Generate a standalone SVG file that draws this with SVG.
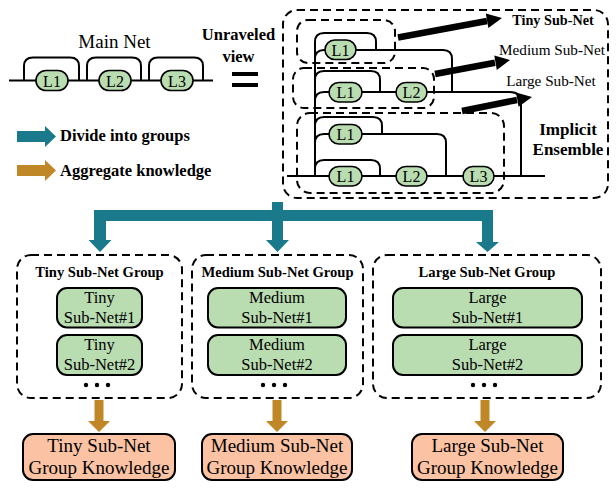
<svg xmlns="http://www.w3.org/2000/svg" width="616" height="488" viewBox="0 0 616 488" font-family="'Liberation Serif', 'DejaVu Serif', serif">
<style>
  text { font-family: 'Liberation Serif', 'DejaVu Serif', serif; fill: #000; }
  .b { font-weight: bold; }
  .net { fill: none; stroke: #000; stroke-width: 2; }
  .pill { fill: #b9dcb1; stroke: #000; stroke-width: 1.6; }
  .pt { font-size: 16px; text-anchor: middle; }
  .dash { fill: none; stroke: #000; stroke-width: 2; stroke-dasharray: 8 5; }
  .sub { fill: #b9dcb1; stroke: #000; stroke-width: 2; }
  .know { fill: #fbc3a3; stroke: #000; stroke-width: 2; }
  .st { font-size: 16.5px; text-anchor: middle; }
  .kt { font-size: 19px; text-anchor: middle; }
  .gt { font-size: 14.6px; font-weight: bold; text-anchor: middle; }
  .teal { fill: #1a7a8c; }
  .gold { fill: #bf8726; }
</style>

<!-- Main Net -->
<g id="main-net">
  <text x="114.5" y="48" font-size="19" text-anchor="middle">Main Net</text>
  <path class="net" d="M9,80.5 H213 M24,80.5 V66 Q24,57.5 33,57.5 H70 Q79,57.5 79,66 V80.5 M87,80.5 V66 Q87,57.5 96,57.5 H132 Q141,57.5 141,66 V80.5 M149,80.5 V66 Q149,57.5 158,57.5 H194 Q203,57.5 203,66 V80.5"/>
  <rect class="pill" x="36" y="70.5" width="32" height="20" rx="10"/>
  <rect class="pill" x="99" y="70.5" width="32" height="20" rx="10"/>
  <rect class="pill" x="161" y="70.5" width="32" height="20" rx="10"/>
  <text class="pt" x="52" y="86.5">L1</text>
  <text class="pt" x="115" y="86.5">L2</text>
  <text class="pt" x="177" y="86.5">L3</text>
</g>

<g id="equals">
  <text class="b" x="238.5" y="40" font-size="16.5" text-anchor="middle">Unraveled</text>
  <text class="b" x="238.5" y="62" font-size="16.5" text-anchor="middle">view</text>
  <rect x="232" y="72" width="26" height="4" fill="#000"/>
  <rect x="232" y="83" width="26" height="4" fill="#000"/>
</g>

<!-- Legend -->
<g id="legend">
  <path class="teal" d="M17,131 H45 V126 L56,136.5 L45,147 V142 H17 Z"/>
  <text class="b" x="60" y="141" font-size="16.5">Divide into groups</text>
  <path class="gold" d="M17,165 H45 V160 L56,170.5 L45,181 V176 H17 Z"/>
  <text class="b" x="60" y="176" font-size="16.5">Aggregate knowledge</text>
</g>

<!-- Unraveled view -->
<g id="unraveled-view">
  <rect class="dash" x="283" y="10" width="325" height="188" rx="14"/>
  <rect class="dash" x="297" y="20" width="98" height="43" rx="11"/>
  <rect class="dash" x="293" y="68" width="141" height="40" rx="11"/>
  <rect class="dash" x="297" y="113" width="207" height="80" rx="13"/>
  <path class="net" d="M315,176 V42 Q315,33 324,33 H367 Q376,33 376,42 V50
    M315,59 Q315,50 324,50 H443 Q452,50 452,59 V92
    M315,80 Q315,71 324,71 H371 Q380,71 380,80 V92
    M315,101 Q315,92 324,92 H510 Q521,92 521,103 V176
    M315,126 Q315,117 324,117 H373 Q382,117 382,126 V134
    M315,143 Q315,134 324,134 H437 Q446,134 446,143 V176
    M315,169 Q315,160 324,160 H371 Q380,160 380,169 V176
    M287,176 H545"/>
  <rect class="pill" x="325" y="40" width="31" height="19.5" rx="9.75"/>
  <text class="pt" x="340.5" y="55.5">L1</text>
  <rect class="pill" x="329" y="82.5" width="33" height="19.5" rx="9.75"/>
  <text class="pt" x="345.5" y="98">L1</text>
  <rect class="pill" x="396" y="82.5" width="31" height="19.5" rx="9.75"/>
  <text class="pt" x="411.5" y="98">L2</text>
  <rect class="pill" x="329" y="124.5" width="33" height="19.5" rx="9.75"/>
  <text class="pt" x="345.5" y="140">L1</text>
  <rect class="pill" x="329" y="166.5" width="33" height="19.5" rx="9.75"/>
  <text class="pt" x="345.5" y="182">L1</text>
  <rect class="pill" x="396" y="166.5" width="31" height="19.5" rx="9.75"/>
  <text class="pt" x="411.5" y="182">L2</text>
  <rect class="pill" x="463" y="166.5" width="31" height="19.5" rx="9.75"/>
  <text class="pt" x="478.5" y="182">L3</text>

  <g id="subnet-arrows">
    <line x1="398" y1="37.5" x2="487" y2="21" stroke="#000" stroke-width="6.5"/>
    <polygon points="502,18 488.4,27.9 485.8,13.6" fill="#000"/>
    <line x1="435" y1="74" x2="495" y2="62.8" stroke="#000" stroke-width="6.5"/>
    <polygon points="510,60 496.8,69.9 494.3,55.6" fill="#000"/>
    <line x1="462" y1="111" x2="517" y2="100" stroke="#000" stroke-width="6.5"/>
    <polygon points="532,97 518.6,106.8 516.0,92.5" fill="#000"/>
  </g>
  <text class="b" x="553" y="25" font-size="14.2" text-anchor="middle">Tiny Sub-Net</text>
  <text x="552" y="55" font-size="15.2" text-anchor="middle">Medium Sub-Net</text>
  <text x="551" y="86" font-size="15.2" text-anchor="middle">Large Sub-Net</text>
  <text class="b" x="568" y="135" font-size="17" text-anchor="middle">Implicit</text>
  <text class="b" x="568" y="155" font-size="17" text-anchor="middle">Ensemble</text>
</g>

<!-- Divide / aggregate connectors -->
<g id="connectors">
  <path class="teal" d="M94,210 H272 V202 H283 V210 H493 V242 H499 L487.5,252 L476,242 H482 V221 H283 V240 H289 L277.5,252 L266,240 H272 V221 H106 V240 H111.5 L100,252 L88.5,240 H94 Z"/>
  <path class="gold" d="M94.5,400 H103.5 V421 H110 L99,432 L88,421 H94.5 Z"/>
  <path class="gold" d="M272.5,400 H281.5 V421 H288 L277,432 L266,421 H272.5 Z"/>
  <path class="gold" d="M480.5,400 H489.5 V421 H496 L485,432 L474,421 H480.5 Z"/>
</g>

<!-- Groups -->
<g id="tiny-group">
  <rect class="dash" x="17" y="255" width="165" height="143" rx="14"/>
  <text class="gt" x="99.5" y="277">Tiny Sub-Net Group</text>
  <rect class="sub" x="57" y="288" width="85" height="39.5" rx="10"/>
  <text class="st" x="99.5" y="303">Tiny</text>
  <text class="st" x="99.5" y="323">Sub-Net#1</text>
  <rect class="sub" x="57" y="335" width="85" height="40" rx="10"/>
  <text class="st" x="99.5" y="350">Tiny</text>
  <text class="st" x="99.5" y="370">Sub-Net#2</text>
  <circle cx="86" cy="385" r="2.2"/><circle cx="97" cy="385" r="2.2"/><circle cx="108" cy="385" r="2.2"/>
</g>
<g id="medium-group">
  <rect class="dash" x="192" y="255" width="171" height="143" rx="14"/>
  <text class="gt" x="277.5" y="277">Medium Sub-Net Group</text>
  <rect class="sub" x="208" y="288" width="138" height="39.5" rx="10"/>
  <text class="st" x="277" y="303">Medium</text>
  <text class="st" x="277" y="323">Sub-Net#1</text>
  <rect class="sub" x="208" y="335" width="138" height="40" rx="10"/>
  <text class="st" x="277" y="350">Medium</text>
  <text class="st" x="277" y="370">Sub-Net#2</text>
  <circle cx="263" cy="385" r="2.2"/><circle cx="274" cy="385" r="2.2"/><circle cx="285" cy="385" r="2.2"/>
</g>
<g id="large-group">
  <rect class="dash" x="373" y="255" width="228" height="143" rx="14"/>
  <text class="gt" x="487" y="277">Large Sub-Net Group</text>
  <rect class="sub" x="393" y="288" width="189" height="39.5" rx="10"/>
  <text class="st" x="487.5" y="303">Large</text>
  <text class="st" x="487.5" y="323">Sub-Net#1</text>
  <rect class="sub" x="393" y="335" width="189" height="40" rx="10"/>
  <text class="st" x="487.5" y="350">Large</text>
  <text class="st" x="487.5" y="370">Sub-Net#2</text>
  <circle cx="473" cy="385" r="2.2"/><circle cx="484" cy="385" r="2.2"/><circle cx="495" cy="385" r="2.2"/>
</g>

<!-- Knowledge -->
<g id="tiny-knowledge">
  <rect class="know" x="23" y="434" width="152" height="46" rx="10"/>
  <text class="kt" x="99" y="452">Tiny Sub-Net</text>
  <text class="kt" x="99" y="474">Group Knowledge</text>
</g>
<g id="medium-knowledge">
  <rect class="know" x="202" y="434" width="150" height="46" rx="10"/>
  <text class="kt" x="277" y="452">Medium Sub-Net</text>
  <text class="kt" x="277" y="474">Group Knowledge</text>
</g>
<g id="large-knowledge">
  <rect class="know" x="412" y="434" width="151" height="46" rx="10"/>
  <text class="kt" x="487.5" y="452">Large Sub-Net</text>
  <text class="kt" x="487.5" y="474">Group Knowledge</text>
</g>
</svg>
